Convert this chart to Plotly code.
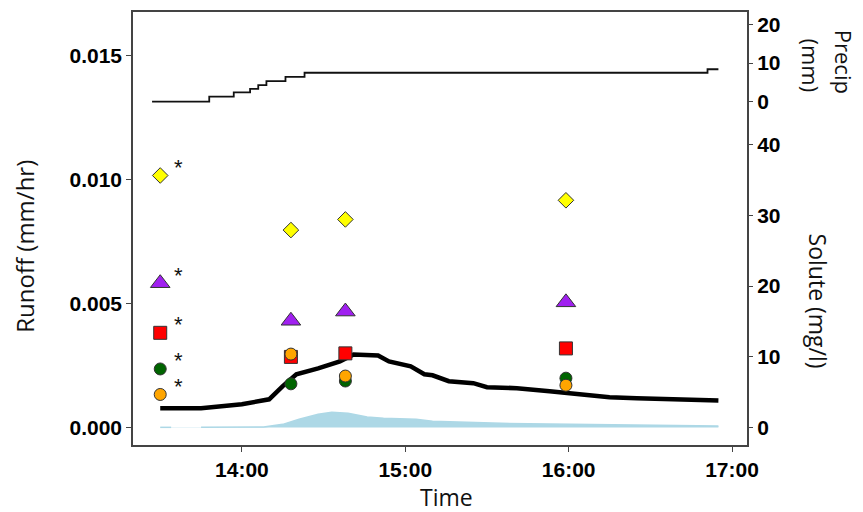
import plotly.graph_objects as go

DAY = "2019-07-01 "

# ---- data ----
q_times = ["13:30", "13:45", "14:00", "14:10", "14:15", "14:20", "14:28", "14:36", "14:41",
           "14:50", "14:54", "15:02", "15:07", "15:10", "15:16", "15:25", "15:30", "15:41",
           "15:53", "16:03", "16:15", "16:25", "16:36", "16:55"]
runoff = [0.00078, 0.00078, 0.00094, 0.00114, 0.00167, 0.00215, 0.00239, 0.00267, 0.00295,
          0.00291, 0.00267, 0.00247, 0.00215, 0.00211, 0.00187, 0.00179, 0.00163, 0.00159,
          0.00147, 0.00135, 0.00122, 0.00118, 0.00114, 0.00109]

area_times = ["13:30", "13:34", "13:38", "13:45", "14:08", "14:15", "14:21", "14:28", "14:33",
              "14:39", "14:46", "14:52", "15:04", "15:10", "15:18", "15:32", "15:53", "16:23", "16:55"]
area_vals = [0.00001, 0.00001, None, 0.00001, 0.00002, 0.00013, 0.00034, 0.00054, 0.00062,
             0.00058, 0.00043, 0.00038, 0.00034, 0.00026, 0.00022, 0.00018, 0.00014, 0.00010, 0.00006]

precip_times = ["13:27", "13:48", "13:57", "14:03", "14:06", "14:09", "14:16", "14:23", "16:51", "16:55"]
precip_cum = [0, 1.3, 2.4, 3.3, 4.3, 5.3, 6.4, 7.5, 8.4, 8.4]

sample_times = ["13:30", "14:18", "14:38", "15:59"]
solute_yellow = [35.6, 27.9, 29.4, 32.1]
solute_purple = [20.4, 15.1, 16.4, 17.7]
solute_red = [13.4, 10.0, 10.5, 11.2]
solute_green = [8.3, 6.2, 6.6, 7.0]
solute_orange = [4.7, 10.4, 7.3, 6.0]

x_ticks = ["14:00", "15:00", "16:00", "17:00"]
runoff_ticks = [0.000, 0.005, 0.010, 0.015]
runoff_labels = ["0.000", "0.005", "0.010", "0.015"]
solute_ticks = [0, 10, 20, 30, 40]
precip_ticks = [0, 10, 20]


def t(lst):
    return [DAY + s for s in lst]


fig = go.Figure()

# light blue runoff area
fig.add_trace(go.Scatter(x=t(area_times), y=area_vals, mode="lines", fill="tozeroy",
                         line=dict(color="#ADD8E6", width=1.5), fillcolor="#ADD8E6",
                         connectgaps=False, yaxis="y", showlegend=False))
# black runoff line
fig.add_trace(go.Scatter(x=t(q_times), y=runoff, mode="lines",
                         line=dict(color="black", width=4.5), yaxis="y", showlegend=False))
# precip cumulative line
fig.add_trace(go.Scatter(x=t(precip_times), y=precip_cum, mode="lines",
                         line=dict(color="#111111", width=1.8, shape="hv"), yaxis="y3",
                         showlegend=False))

outline = dict(color="#333333", width=1)
series = [
    (solute_yellow, "diamond", "#FFFF00", 12),
    (solute_purple, "triangle-up", "#A020F0", 17),
    (solute_red, "square", "#FF0000", 13),
    (solute_green, "circle", "#006400", 12),
    (solute_orange, "circle", "#FFA500", 12),
]
for vals, sym, col, sz in series:
    fig.add_trace(go.Scatter(x=t(sample_times), y=vals, mode="markers", yaxis="y2",
                             marker=dict(symbol=sym, color=col, size=sz, line=outline),
                             showlegend=False))

annotations = []
# asterisks next to first samples
for vals in [solute_yellow, solute_purple, solute_red, solute_green, solute_orange]:
    annotations.append(dict(x=DAY + sample_times[0], y=vals[0], xref="x", yref="y2", text="*",
                            showarrow=False, xshift=18, yshift=8,
                            xanchor="center", yanchor="middle",
                            font=dict(family="Liberation Sans", size=22, color="#111111")))


def title(text, x, y, angle, size=23):
    return dict(x=x, y=y, xref="paper", yref="paper", text=text, textangle=angle,
                showarrow=False, xanchor="center", yanchor="middle",
                font=dict(family="Open Sans", size=size, color="#111111"))


annotations += [
    title("Runoff (mm/hr)", -0.176, 0.46, -90, 24),
    title("Time", 0.51, -0.121, 0, 23),
    title("Precip", 1.158, 0.885, 90, 22),
    title("(mm)", 1.104, 0.877, 90, 22),
    title("Solute (mg/l)", 1.116, 0.333, 90, 23),
]

tick_font = dict(family="Liberation Sans", size=21, color="black", weight="bold")
axis_col = "#444444"

# page body has an 8px default margin; margins below compensate for it
fig.update_layout(
    width=855, height=504,
    margin=dict(l=125, r=116, t=2, b=67),
    paper_bgcolor="white", plot_bgcolor="white",
    xaxis=dict(type="date", range=[DAY + "13:20:00", DAY + "17:05:30"],
               tickvals=t(x_ticks), ticktext=x_ticks, tickfont=tick_font,
               ticks="outside", ticklen=5, tickcolor=axis_col, showgrid=False,
               showline=True, linecolor=axis_col, linewidth=1.5, mirror=True, zeroline=False),
    yaxis=dict(range=[-0.000703, 0.016767], tickvals=runoff_ticks,
               ticktext=runoff_labels, tickfont=tick_font,
               ticks="outside", ticklen=5, tickcolor=axis_col, showgrid=False,
               showline=True, linecolor=axis_col, linewidth=1.5, mirror=True, zeroline=False),
    yaxis2=dict(range=[-2.43, 58.67], overlaying="y", side="right", anchor="x",
                tickvals=solute_ticks, tickfont=tick_font, ticks="outside", ticklen=5,
                tickcolor=axis_col, showgrid=False, showline=False, zeroline=False),
    yaxis3=dict(range=[-89.1, 23.26], overlaying="y", side="right", anchor="x",
                tickvals=precip_ticks, tickfont=tick_font, ticks="outside", ticklen=5,
                tickcolor=axis_col, showgrid=False, showline=False, zeroline=False),
    annotations=annotations,
)

fig.write_html("out.html")
